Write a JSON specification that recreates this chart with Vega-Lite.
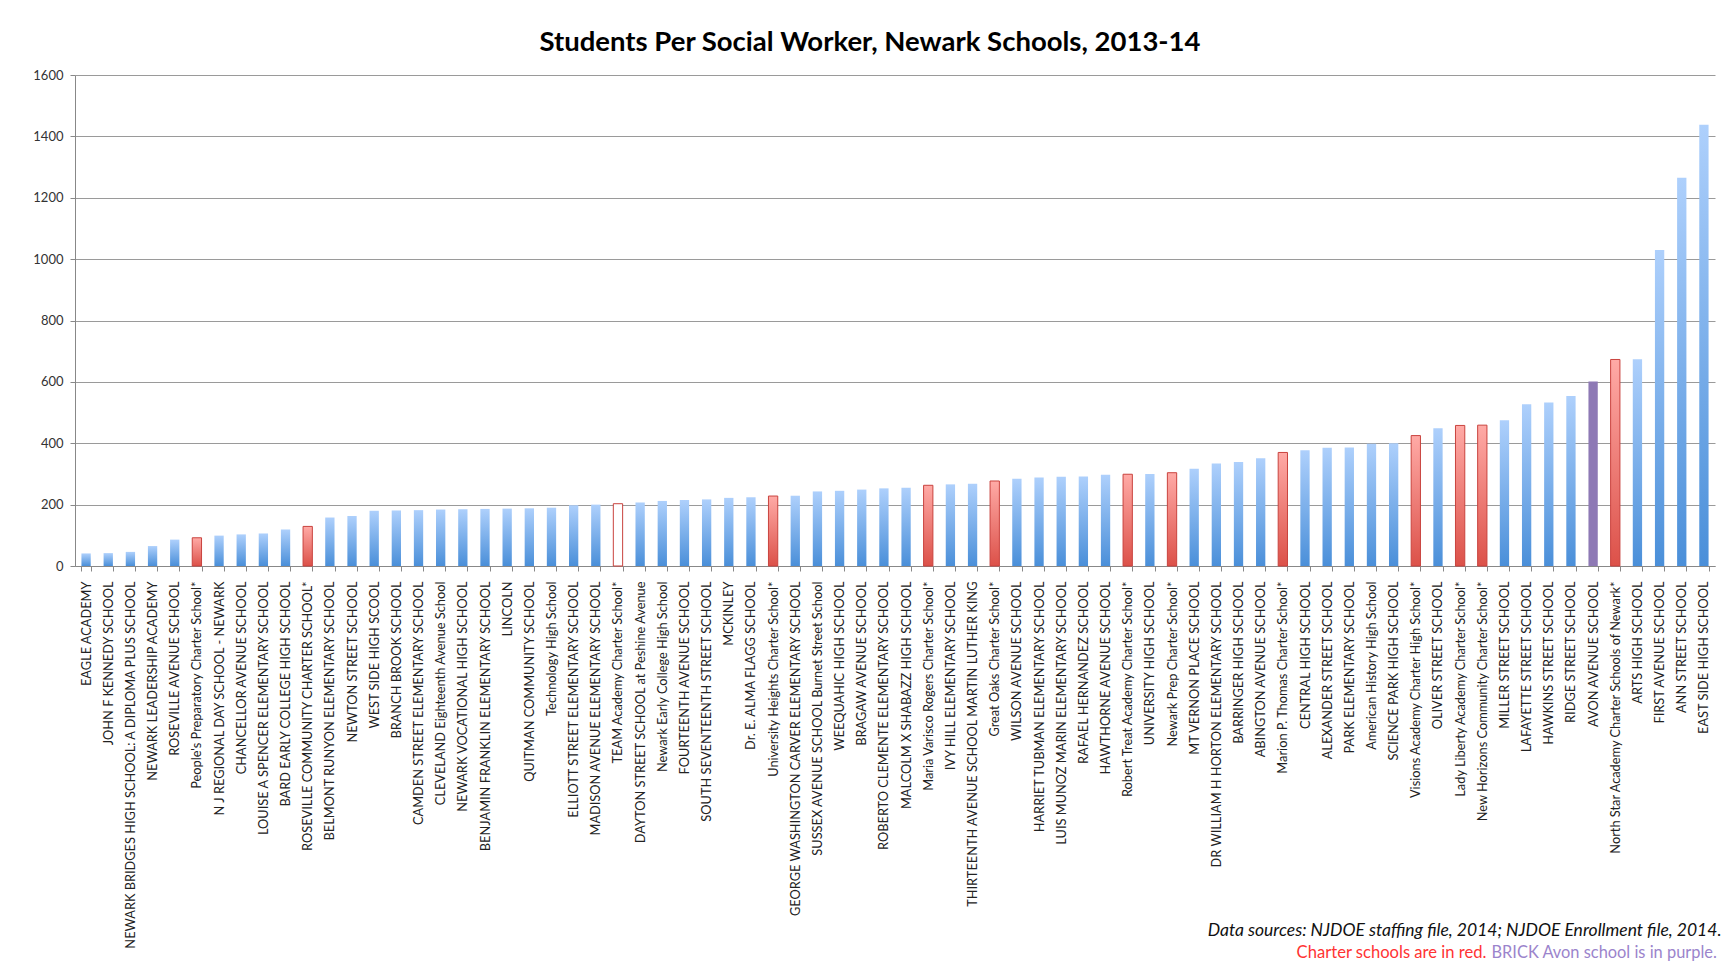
{
  "$schema": "https://vega.github.io/schema/vega-lite/v6.json",
  "autosize": {"type": "none"},
  "width": 1640,
  "height": 491,
  "padding": {"left": 75, "top": 75, "right": 17, "bottom": 400},
  "background": "white",
  "title": {
    "text": "Students Per Social Worker, Newark Schools, 2013-14",
    "font": "Lato",
    "fontSize": 27.5,
    "fontWeight": "bold",
    "color": "#000000",
    "anchor": "middle",
    "dx": -25,
    "offset": 13
  },
  "config": {
    "view": {"stroke": null},
    "font": "Lato"
  },
  "data": {
    "values": [
      {"school": "EAGLE ACADEMY", "value": 41, "type": "district"},
      {"school": "JOHN F KENNEDY SCHOOL", "value": 42, "type": "district"},
      {"school": "NEWARK BRIDGES HIGH SCHOOL: A DIPLOMA PLUS SCHOOL", "value": 46, "type": "district"},
      {"school": "NEWARK LEADERSHIP ACADEMY", "value": 65, "type": "district"},
      {"school": "ROSEVILLE AVENUE SCHOOL", "value": 86, "type": "district"},
      {"school": "People's Preparatory Charter School*", "value": 92, "type": "charter"},
      {"school": "N J REGIONAL DAY SCHOOL - NEWARK", "value": 99, "type": "district"},
      {"school": "CHANCELLOR AVENUE SCHOOL", "value": 103, "type": "district"},
      {"school": "LOUISE A SPENCER ELEMENTARY SCHOOL", "value": 106, "type": "district"},
      {"school": "BARD EARLY COLLEGE HIGH SCHOOL", "value": 119, "type": "district"},
      {"school": "ROSEVILLE COMMUNITY CHARTER SCHOOL*", "value": 129, "type": "charter"},
      {"school": "BELMONT RUNYON ELEMENTARY SCHOOL", "value": 158, "type": "district"},
      {"school": "NEWTON STREET SCHOOL", "value": 163, "type": "district"},
      {"school": "WEST SIDE HIGH SCOOL", "value": 180, "type": "district"},
      {"school": "BRANCH BROOK SCHOOL", "value": 181, "type": "district"},
      {"school": "CAMDEN STREET ELEMENTARY SCHOOL", "value": 182, "type": "district"},
      {"school": "CLEVELAND Eighteenth Avenue School", "value": 184, "type": "district"},
      {"school": "NEWARK VOCATIONAL HIGH SCHOOL", "value": 185, "type": "district"},
      {"school": "BENJAMIN FRANKLIN ELEMENTARY SCHOOL", "value": 186, "type": "district"},
      {"school": "LINCOLN", "value": 187, "type": "district"},
      {"school": "QUITMAN COMMUNITY SCHOOL", "value": 188, "type": "district"},
      {"school": "Technology High School", "value": 190, "type": "district"},
      {"school": "ELLIOTT STREET ELEMENTARY SCHOOL", "value": 198, "type": "district"},
      {"school": "MADISON AVENUE ELEMENTARY SCHOOL", "value": 200, "type": "district"},
      {"school": "TEAM Academy Charter School*", "value": 203, "type": "charter"},
      {"school": "DAYTON STREET SCHOOL at Peshine Avenue", "value": 207, "type": "district"},
      {"school": "Newark Early College High School", "value": 212, "type": "district"},
      {"school": "FOURTEENTH AVENUE SCHOOL", "value": 215, "type": "district"},
      {"school": "SOUTH SEVENTEENTH STREET SCHOOL", "value": 217, "type": "district"},
      {"school": "MCKINLEY", "value": 222, "type": "district"},
      {"school": "Dr. E. ALMA FLAGG SCHOOL", "value": 224, "type": "district"},
      {"school": "University Heights Charter School*", "value": 228, "type": "charter"},
      {"school": "GEORGE WASHINGTON CARVER ELEMENTARY SCHOOL", "value": 229, "type": "district"},
      {"school": "SUSSEX AVENUE SCHOOL Burnet Street  School", "value": 243, "type": "district"},
      {"school": "WEEQUAHIC HIGH SCHOOL", "value": 245, "type": "district"},
      {"school": "BRAGAW AVENUE SCHOOL", "value": 249, "type": "district"},
      {"school": "ROBERTO CLEMENTE ELEMENTARY SCHOOL", "value": 253, "type": "district"},
      {"school": "MALCOLM X SHABAZZ HIGH SCHOOL", "value": 255, "type": "district"},
      {"school": "Maria Varisco Rogers Charter School*", "value": 263, "type": "charter"},
      {"school": "IVY HILL ELEMENTARY SCHOOL", "value": 266, "type": "district"},
      {"school": "THIRTEENTH AVENUE SCHOOL MARTIN LUTHER KING", "value": 268, "type": "district"},
      {"school": "Great Oaks Charter School*", "value": 277, "type": "charter"},
      {"school": "WILSON AVENUE SCHOOL", "value": 284, "type": "district"},
      {"school": "HARRIET TUBMAN ELEMENTARY SCHOOL", "value": 288, "type": "district"},
      {"school": "LUIS MUNOZ MARIN ELEMENTARY SCHOOL", "value": 291, "type": "district"},
      {"school": "RAFAEL HERNANDEZ SCHOOL", "value": 292, "type": "district"},
      {"school": "HAWTHORNE AVENUE SCHOOL", "value": 297, "type": "district"},
      {"school": "Robert Treat Academy Charter School*", "value": 299, "type": "charter"},
      {"school": "UNIVERSITY HIGH SCHOOL", "value": 300, "type": "district"},
      {"school": "Newark Prep Charter School*", "value": 304, "type": "charter"},
      {"school": "MT VERNON PLACE SCHOOL", "value": 317, "type": "district"},
      {"school": "DR WILLIAM H HORTON ELEMENTARY SCHOOL", "value": 334, "type": "district"},
      {"school": "BARRINGER HIGH SCHOOL", "value": 339, "type": "district"},
      {"school": "ABINGTON AVENUE SCHOOL", "value": 351, "type": "district"},
      {"school": "Marion P. Thomas Charter School*", "value": 370, "type": "charter"},
      {"school": "CENTRAL HIGH SCHOOL", "value": 377, "type": "district"},
      {"school": "ALEXANDER STREET SCHOOL", "value": 385, "type": "district"},
      {"school": "PARK ELEMENTARY SCHOOL", "value": 386, "type": "district"},
      {"school": "American History High School", "value": 398, "type": "district"},
      {"school": "SCIENCE PARK HIGH SCHOOL", "value": 400, "type": "district"},
      {"school": "Visions Academy Charter High School*", "value": 425, "type": "charter"},
      {"school": "OLIVER STREET SCHOOL", "value": 449, "type": "district"},
      {"school": "Lady Liberty Academy Charter School*", "value": 458, "type": "charter"},
      {"school": "New Horizons Community Charter School*", "value": 459, "type": "charter"},
      {"school": "MILLER STREET SCHOOL", "value": 475, "type": "district"},
      {"school": "LAFAYETTE STREET SCHOOL", "value": 527, "type": "district"},
      {"school": "HAWKINS STREET SCHOOL", "value": 533, "type": "district"},
      {"school": "RIDGE STREET SCHOOL", "value": 554, "type": "district"},
      {"school": "AVON AVENUE SCHOOL", "value": 601, "type": "avon"},
      {"school": "North Star Academy Charter Schools of Newark*", "value": 673, "type": "charter"},
      {"school": "ARTS HIGH SCHOOL", "value": 674, "type": "district"},
      {"school": "FIRST AVENUE SCHOOL", "value": 1030, "type": "district"},
      {"school": "ANN STREET SCHOOL", "value": 1265, "type": "district"},
      {"school": "EAST SIDE HIGH SCHOOL", "value": 1438, "type": "district"}
    ]
  },
  "resolve": {"axis": {"x": "independent"}},
  "layer": [
    {
      "transform": [{"filter": "datum.type === 'district'"}],
      "mark": {
        "type": "bar",
        "fill": {"gradient": "linear", "x1": 0, "y1": 0, "x2": 0, "y2": 1,
          "stops": [{"offset": 0, "color": "#aed0fc"}, {"offset": 1, "color": "#4a8fd9"}]}
      },
      "encoding": {
        "x": {
          "field": "school", "type": "nominal",
          "sort": {"field": "value", "op": "min", "order": "ascending"},
          "scale": {"paddingInner": 0.58, "paddingOuter": 0.29},
          "axis": {
            "orient": "bottom",
            "labelAngle": -90,
            "labelAlign": "right",
            "labelBaseline": "middle",
            "labelFontSize": 12.8,
            "labelColor": "#222222",
            "labelLimit": 0,
            "labelPadding": 10,
            "ticks": true,
            "tickBand": "extent",
            "tickSize": 5,
            "tickColor": "#888888",
            "domainColor": "#888888",
            "grid": false,
            "title": "Data sources: NJDOE staffing file, 2014; NJDOE Enrollment file, 2014.",
            "titleFontStyle": "italic",
            "titleFontWeight": "normal",
            "titleFontSize": 17.5,
            "titleColor": "#111111",
            "titleAlign": "right",
            "titleBaseline": "alphabetic",
            "titleX": 1646,
            "titleY": 369
          }
        },
        "y": {
          "field": "value", "type": "quantitative",
          "scale": {"domain": [0, 1600], "nice": false},
          "axis": {
            "values": [0, 200, 400, 600, 800, 1000, 1200, 1400, 1600],
            "format": "d",
            "title": null,
            "labelFontSize": 13,
            "labelColor": "#333333",
            "labelPadding": 7,
            "tickSize": 5,
            "tickColor": "#888888",
            "domainColor": "#888888",
            "gridColor": "#9a9a9a",
            "gridWidth": 1
          }
        }
      }
    },
    {
      "transform": [{"filter": "datum.type === 'charter'"}],
      "mark": {"type": "bar", "stroke": "#c9433e", "strokeWidth": 1},
      "encoding": {
        "x": {
          "field": "school", "type": "nominal",
          "sort": {"field": "value", "op": "min", "order": "ascending"},
          "axis": {
            "orient": "bottom",
            "labels": false,
            "ticks": false,
            "domain": false,
            "grid": false,
            "title": "Charter schools are in red.",
            "titleFontWeight": "normal",
            "titleFontSize": 16.6,
            "titleColor": "#ff3333",
            "titleAlign": "right",
            "titleBaseline": "alphabetic",
            "titleX": 1411,
            "titleY": 391
          }
        },
        "y": {"field": "value", "type": "quantitative"},
        "fill": {
          "condition": {"test": "datum.school === 'TEAM Academy Charter School*'", "value": "#ffffff"},
          "value": {"gradient": "linear", "x1": 0, "y1": 0, "x2": 0, "y2": 1,
            "stops": [{"offset": 0, "color": "#ffaaa6"}, {"offset": 1, "color": "#dc5149"}]}
        }
      }
    },
    {
      "transform": [{"filter": "datum.type === 'avon'"}],
      "mark": {"type": "bar", "fill": "#8e79b5"},
      "encoding": {
        "x": {
          "field": "school", "type": "nominal",
          "sort": {"field": "value", "op": "min", "order": "ascending"},
          "axis": {
            "orient": "bottom",
            "labels": false,
            "ticks": false,
            "domain": false,
            "grid": false,
            "title": "BRICK Avon school is in purple.",
            "titleFontWeight": "normal",
            "titleFontSize": 16.4,
            "titleColor": "#9b84cc",
            "titleAlign": "left",
            "titleBaseline": "alphabetic",
            "titleX": 1416,
            "titleY": 391
          }
        },
        "y": {"field": "value", "type": "quantitative"}
      }
    }
  ]
}
